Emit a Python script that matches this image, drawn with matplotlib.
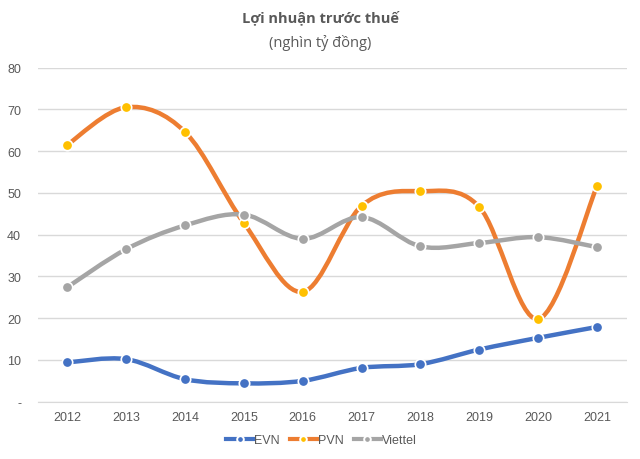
import numpy as np
import matplotlib.pyplot as plt
from matplotlib.path import Path
from matplotlib.patches import PathPatch
from matplotlib.lines import Line2D

years = ["2012", "2013", "2014", "2015", "2016", "2017", "2018", "2019", "2020", "2021"]
evn = [9.4, 10.2, 5.4, 4.4, 5.0, 8.1, 9.0, 12.5, 15.3, 17.9]
pvn = [61.5, 70.5, 64.6, 42.8, 26.3, 46.9, 50.4, 46.6, 19.8, 51.7]
viettel = [27.4, 36.5, 42.2, 44.8, 39.0, 44.2, 37.2, 38.0, 39.4, 37.0]

plt.rcParams['font.family'] = ['Liberation Sans', 'DejaVu Sans']


def smooth_path(xs, ys):
    # Excel-like smoothed line: cubic Bezier segments through the points
    pts = np.column_stack([xs, ys]).astype(float)
    n = len(pts)
    verts = [pts[0]]
    codes = [Path.MOVETO]
    for i in range(n - 1):
        p0 = pts[i - 1] if i > 0 else pts[i]
        p1 = pts[i]
        p2 = pts[i + 1]
        p3 = pts[i + 2] if i + 2 < n else pts[i + 1]
        c1 = p1 + (p2 - p0) / 6
        c2 = p2 - (p3 - p1) / 6
        verts += [c1, c2, p2]
        codes += [Path.CURVE4] * 3
    return Path(verts, codes)


fig = plt.figure(figsize=(6.4, 4.6), dpi=100)
ax = fig.add_axes([0.059, 0.1245, 0.92, 0.7265])

x = np.arange(len(years))
series = [
    ("EVN", evn, "#4472C4", "#4472C4"),
    ("PVN", pvn, "#ED7D31", "#FFC000"),
    ("Viettel", viettel, "#A5A5A5", "#A5A5A5"),
]
handles = []
for name, vals, lc, mc in series:
    ax.add_patch(PathPatch(smooth_path(x, vals), facecolor="none", edgecolor=lc,
                           lw=3.2, capstyle="round", zorder=3))
    ax.plot(x, vals, linestyle="none", marker="o", ms=7.5, mfc=mc,
            mec="white", mew=1.2, zorder=4)
    handles.append(Line2D([], [], color=lc, lw=3.0, marker="o", ms=4.8, mfc=mc,
                          mec="white", mew=1.4, label=name))

ax.set_xlim(-0.5, len(years) - 0.5)
ax.set_ylim(0, 80)
ax.set_xticks(x)
ax.set_xticklabels(years)
ax.set_yticks(range(0, 81, 10))
ax.set_yticklabels(["-"] + [str(v) for v in range(10, 81, 10)])
ax.tick_params(length=0, colors="#595959", labelsize=9)
ax.tick_params(axis="x", pad=7)
ax.tick_params(axis="y", pad=12)
ax.grid(axis="y", color="#D9D9D9", lw=1)
ax.set_axisbelow(True)
for s in ["top", "right", "left"]:
    ax.spines[s].set_visible(False)
ax.spines["bottom"].set_color("#D9D9D9")

fig.text(0.5, 0.96, "Lợi nhuận trước thuế", ha="center", va="center",
         fontsize=10.5, fontweight="bold", color="#595959", family="Open Sans")
fig.text(0.5, 0.906, "(nghìn tỷ đồng)", ha="center", va="center",
         fontsize=10.5, color="#595959", family="Open Sans")

fig.legend(handles=handles, loc="center", bbox_to_anchor=(0.502, 0.041), ncol=3,
           frameon=False, fontsize=9, handlelength=2.2, handletextpad=0.05,
           columnspacing=0.8, labelcolor="#595959")

fig.savefig("out.png", dpi=100)
